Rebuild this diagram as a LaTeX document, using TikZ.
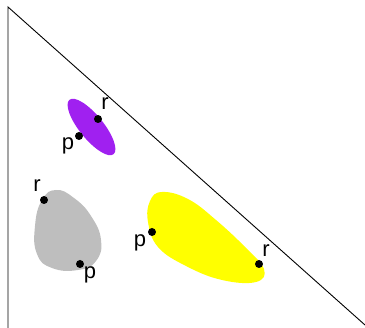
\documentclass[tikz,border=0pt]{standalone}
\usepackage{fontspec}
\setmainfont{Liberation Sans}
\definecolor{blobpurple}{RGB}{160,32,240}
\definecolor{blobgray}{RGB}{190,190,190}
\definecolor{blobyellow}{RGB}{255,255,0}
\begin{document}
\begin{tikzpicture}[x=1pt,y=-1pt,
  edge/.style={draw=black,line width=0.9pt},
  pt/.style={circle,fill=black,inner sep=0pt,minimum size=8pt},
  lbl/.style={font=\fontsize{22}{22}\selectfont,inner sep=0pt}]
\useasboundingbox (0,0) rectangle (365,328);
% boundary
\coordinate (top) at (8,7);
\coordinate (bot) at (8,328);
\coordinate (diagend) at (365,325);
\draw[edge] (bot) -- (top) -- (diagend);
% purple ellipse
\fill[blobpurple] (91.5,127) ellipse[x radius=35, y radius=12, rotate=-51];
% gray blob
\fill[blobgray] plot[smooth cycle, tension=0.8] coordinates {(56,190) (74,198) (91,216) (101,240) (96,261) (78,270) (52,268) (37,254) (35,226) (42,200)};
% yellow blob
\fill[blobyellow] plot[smooth cycle, tension=0.7] coordinates {(162,192) (188,199) (216,220) (246,248) (264,269) (256,282) (222,280) (186,266) (158,247) (148,222) (150,201)};
% points
\node[pt] (p1) at (79,136) {};
\node[pt] (r1) at (98,119) {};
\node[pt] (r2) at (44,200) {};
\node[pt] (p2) at (80,264) {};
\node[pt] (p3) at (152,232) {};
\node[pt] (r3) at (259,264) {};
% labels
\node[lbl] (lp1) at (68,146) {p};
\node[lbl] (lr1) at (105,104) {r};
\node[lbl] (lr2) at (37,186) {r};
\node[lbl] (lp2) at (90,275) {p};
\node[lbl] (lp3) at (140,243) {p};
\node[lbl] (lr3) at (266,251) {r};
\end{tikzpicture}
\end{document}
